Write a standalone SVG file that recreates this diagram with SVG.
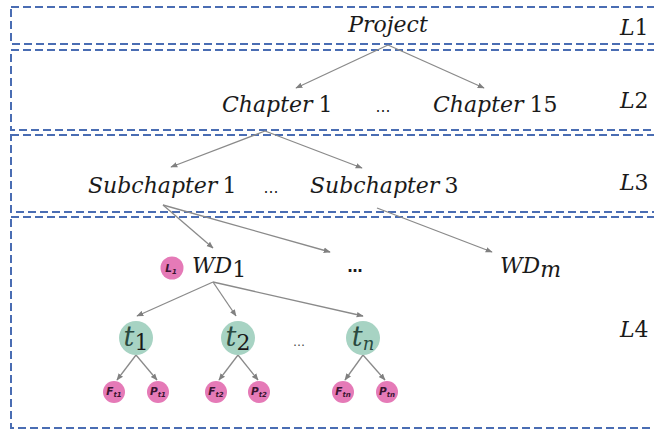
<svg xmlns="http://www.w3.org/2000/svg" width="654" height="429" viewBox="0 0 654 429">
  <defs>
    <marker id="arrow" viewBox="0 0 10 10" refX="9" refY="5" markerWidth="7" markerHeight="7" orient="auto-start-reverse" markerUnits="userSpaceOnUse">
      <path d="M0,1 L10,5 L0,9 z" fill="#808080"/>
    </marker>
    <style>
      .band { fill: none; stroke: #4a6db3; stroke-width: 2; stroke-dasharray: 8 4; }
      .edge { stroke: #8a8a8a; stroke-width: 1.3; fill: none; marker-end: url(#arrow); }
      .it { font-family: "DejaVu Serif", serif; font-style: italic; font-size: 22px; fill: #1a1a1a; }
      .up { font-family: "DejaVu Serif", serif; font-style: normal; font-size: 22px; fill: #1a1a1a; }
      .dots { font-family: "DejaVu Sans", sans-serif; font-size: 15px; fill: #1a1a1a; text-anchor: middle; }
      .dots-bold { font-weight: bold; }
      .dots-small { font-size: 12px; fill: #444; }
      .task { fill: #a7d3c3; }
      .task-t { font-family: "DejaVu Serif", serif; font-style: italic; font-size: 27px; fill: #2a4a40; }
      .leaf { fill: #e57ab7; }
      .leaf-t { font-family: "DejaVu Sans", sans-serif; font-style: italic; font-weight: bold; font-size: 10.5px; fill: #3a1430; text-anchor: middle; }
    </style>
  </defs>

  <!-- level bands -->
  <g id="bands">
    <rect class="band" x="11" y="7" width="700" height="37"/>
    <rect class="band" x="11" y="50" width="700" height="80"/>
    <rect class="band" x="11" y="135" width="700" height="77"/>
    <rect class="band" x="11" y="217" width="700" height="211"/>
  </g>

  <!-- level labels -->
  <g id="level-labels">
    <text x="620" y="35"><tspan class="it">L</tspan><tspan class="up">1</tspan></text>
    <text x="620" y="108"><tspan class="it">L</tspan><tspan class="up">2</tspan></text>
    <text x="620" y="190"><tspan class="it">L</tspan><tspan class="up">3</tspan></text>
    <text x="620" y="337"><tspan class="it">L</tspan><tspan class="up">4</tspan></text>
  </g>

  <!-- connectors -->
  <g id="connectors">
    <line class="edge" x1="388" y1="45" x2="296" y2="88"/>
    <line class="edge" x1="388" y1="45" x2="484" y2="88"/>
    <line class="edge" x1="265" y1="131" x2="171" y2="167"/>
    <line class="edge" x1="265" y1="131" x2="362" y2="168"/>
    <line class="edge" x1="163" y1="205" x2="213" y2="248"/>
    <line class="edge" x1="163" y1="205" x2="330" y2="252"/>
    <line class="edge" x1="377" y1="208" x2="492" y2="252"/>
    <line class="edge" x1="213" y1="282" x2="137" y2="316"/>
    <line class="edge" x1="213" y1="282" x2="236" y2="316"/>
    <line class="edge" x1="213" y1="282" x2="363" y2="316"/>
    <line class="edge" x1="136" y1="355" x2="117" y2="380"/>
    <line class="edge" x1="136" y1="355" x2="157" y2="380"/>
    <line class="edge" x1="238" y1="355" x2="219" y2="380"/>
    <line class="edge" x1="238" y1="355" x2="258" y2="380"/>
    <line class="edge" x1="363" y1="355" x2="345" y2="380"/>
    <line class="edge" x1="363" y1="355" x2="385" y2="380"/>
  </g>

  <!-- L1 -->
  <g id="project">
    <text class="it" x="388" y="32" text-anchor="middle">Project</text>
  </g>

  <!-- L2 -->
  <g id="chapter-1">
    <text x="222" y="112"><tspan class="it">Chapter</tspan><tspan class="up" dx="6">1</tspan></text>
  </g>
  <text id="chapters-gap" class="dots" x="383" y="112">…</text>
  <g id="chapter-15">
    <text x="433" y="112"><tspan class="it">Chapter</tspan><tspan class="up" dx="6">15</tspan></text>
  </g>

  <!-- L3 -->
  <g id="subchapter-1">
    <text x="88" y="193"><tspan class="it">Subchapter</tspan><tspan class="up" dx="5">1</tspan></text>
  </g>
  <text id="subchapters-gap" class="dots" x="271" y="193">…</text>
  <g id="subchapter-3">
    <text x="310" y="193"><tspan class="it">Subchapter</tspan><tspan class="up" dx="5">3</tspan></text>
  </g>

  <!-- L4: work descriptions -->
  <g id="wd-1">
    <circle class="leaf" cx="172" cy="268" r="11.5"/>
    <text class="leaf-t" x="171" y="272">L<tspan font-size="7" dy="2">1</tspan></text>
    <text x="192" y="273"><tspan class="it" font-size="21">WD</tspan><tspan class="up" font-size="14" dy="4">1</tspan></text>
  </g>
  <text id="wd-gap" class="dots dots-bold" x="355" y="272">…</text>
  <g id="wd-m">
    <text x="500" y="273"><tspan class="it" font-size="21">WD</tspan><tspan class="it" font-size="14" dy="4">m</tspan></text>
  </g>

  <!-- L4: tasks -->
  <g id="task-1">
    <circle class="task" cx="136" cy="338" r="17"/>
    <text class="task-t" x="136" y="346" text-anchor="middle">t<tspan class="up" font-size="18" fill="#2a4a40" dy="4">1</tspan></text>
  </g>
  <g id="task-2">
    <circle class="task" cx="238" cy="338" r="17"/>
    <text class="task-t" x="238" y="346" text-anchor="middle">t<tspan class="up" font-size="18" fill="#2a4a40" dy="4">2</tspan></text>
  </g>
  <text id="tasks-gap" class="dots dots-small" x="299" y="346">…</text>
  <g id="task-n">
    <circle class="task" cx="363" cy="338" r="17"/>
    <text class="task-t" x="363" y="346" text-anchor="middle">t<tspan font-size="18" dy="4">n</tspan></text>
  </g>

  <!-- L4: task leaves -->
  <g id="f-t1">
    <circle class="leaf" cx="114" cy="392" r="11"/>
    <text class="leaf-t" x="114" y="395">F<tspan font-size="7" dy="2">t1</tspan></text>
  </g>
  <g id="p-t1">
    <circle class="leaf" cx="158" cy="392" r="11"/>
    <text class="leaf-t" x="158" y="395">P<tspan font-size="7" dy="2">t1</tspan></text>
  </g>
  <g id="f-t2">
    <circle class="leaf" cx="216" cy="392" r="11"/>
    <text class="leaf-t" x="216" y="395">F<tspan font-size="7" dy="2">t2</tspan></text>
  </g>
  <g id="p-t2">
    <circle class="leaf" cx="259" cy="392" r="11"/>
    <text class="leaf-t" x="259" y="395">P<tspan font-size="7" dy="2">t2</tspan></text>
  </g>
  <g id="f-tn">
    <circle class="leaf" cx="343" cy="392" r="11"/>
    <text class="leaf-t" x="343" y="395">F<tspan font-size="7" dy="2">tn</tspan></text>
  </g>
  <g id="p-tn">
    <circle class="leaf" cx="387" cy="392" r="11"/>
    <text class="leaf-t" x="387" y="395">P<tspan font-size="7" dy="2">tn</tspan></text>
  </g>
</svg>
